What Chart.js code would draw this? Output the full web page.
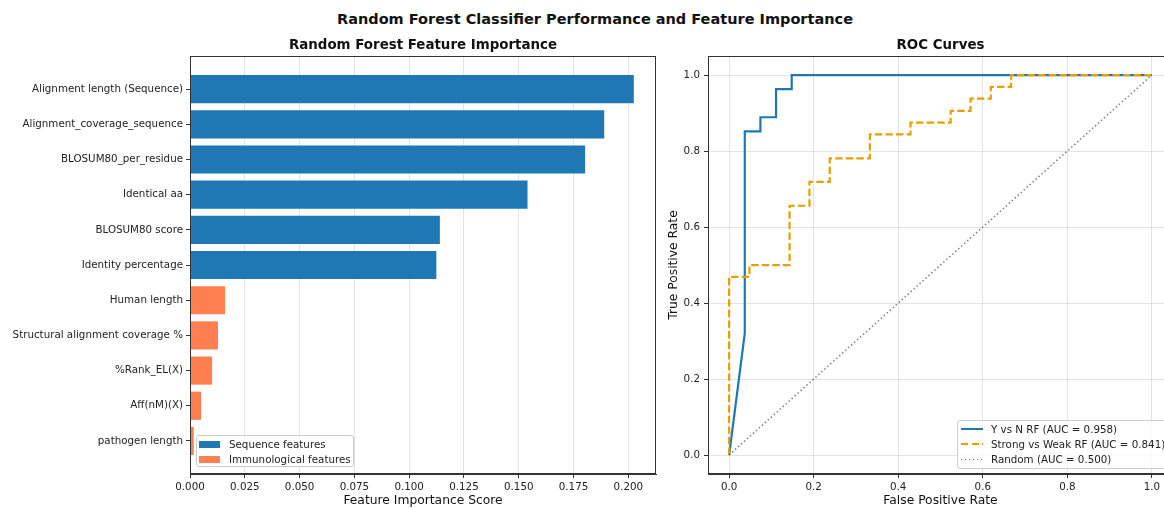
<!DOCTYPE html>
<html>
<head>
<meta charset="utf-8">
<title>Random Forest Classifier Performance and Feature Importance</title>
<script src="https://cdn.jsdelivr.net/npm/chart.js@4.4.1/dist/chart.umd.min.js"></script>
<style>
    html, body { margin: 0; padding: 0; background: #fff; overflow: hidden; }
    body { width: 1164px; height: 508px; position: relative; font-family: 'DejaVu Sans', sans-serif; color: #111; }
    #suptitle { position: absolute; left: 295px; top: 10px; width: 600px; text-align: center; font-weight: bold; font-size: 14.5px; line-height: 18px; white-space: nowrap; }
    #importanceChart { position: absolute; left: 0; top: 0; }
    #rocChart { position: absolute; left: 660px; top: 0; }
    .legend { position: absolute; box-sizing: border-box; background: rgba(255, 255, 255, 0.8); border: 1px solid #ccc; border-radius: 3px; font-size: 10.3px; color: #222; }
    .legend .row { position: absolute; left: 0; height: 12px; line-height: 12px; white-space: nowrap; }
    .legend .swatch { position: absolute; top: 2.5px; width: 21px; height: 7px; }
    .legend .sample { position: absolute; width: 22px; }
    .legend .label { position: absolute; top: 0; }
</style>
</head>
<body>
<div id="suptitle">Random Forest Classifier Performance and Feature Importance</div>
<canvas id="importanceChart" width="660" height="508"></canvas>
<canvas id="rocChart" width="520" height="508"></canvas>

<!-- legends drawn as html boxes, same look as the matplotlib frames -->
<div class="legend" id="importanceLegend" style="left:196px; top:435px; width:158px; height:32px;">
    <div class="row" style="top:2px;"><span class="swatch" style="left:2px; background:#1f77b4;"></span><span class="label" style="left:32px;">Sequence features</span></div>
    <div class="row" style="top:17.3px;"><span class="swatch" style="left:2px; background:coral;"></span><span class="label" style="left:32px;">Immunological features</span></div>
</div>
<div class="legend" id="rocLegend" style="left:957px; top:420px; width:212px; height:49px;">
    <div class="row" style="top:1.6px;"><span class="sample" style="left:3px; top:5px; height:2px; background:#1f77b4;"></span><span class="label" style="left:33px;">Y vs N RF (AUC = 0.958)</span></div>
    <div class="row" style="top:17px;"><span class="sample" style="left:3px; top:5px; height:2px; background:repeating-linear-gradient(to right, #E69F00 0 7.4px, transparent 7.4px 10.6px);"></span><span class="label" style="left:33px;">Strong vs Weak RF (AUC = 0.841)</span></div>
    <div class="row" style="top:32.4px;"><span class="sample" style="left:3px; top:5.25px; height:1.5px; background:repeating-linear-gradient(to right, rgba(0,0,0,0.5) 0 1.5px, transparent 1.5px 4px);"></span><span class="label" style="left:33px;">Random (AUC = 0.500)</span></div>
</div>

<script>
// ---- data ----
const featureNames = [
    'Alignment length (Sequence)',
    'Alignment_coverage_sequence',
    'BLOSUM80_per_residue',
    'Identical aa',
    'BLOSUM80 score',
    'Identity percentage',
    'Human length',
    'Structural alignment coverage %',
    '%Rank_EL(X)',
    'Aff(nM)(X)',
    'pathogen length'
];
const importanceScores = [0.2025, 0.189, 0.1803, 0.154, 0.114, 0.1124, 0.016, 0.0128, 0.0101, 0.0051, 0.0017];
const featureGroups = ['Sequence', 'Sequence', 'Sequence', 'Sequence', 'Sequence', 'Sequence',
    'Immunological', 'Immunological', 'Immunological', 'Immunological', 'Immunological'];
const importanceTicks = [0, 0.025, 0.05, 0.075, 0.1, 0.125, 0.15, 0.175, 0.2];

// ROC curves (fpr / tpr pairs, step corners included)
const yVsNFpr = [0, 0.037, 0.037, 0.074, 0.074, 0.111, 0.111, 0.148, 0.148, 1.0];
const yVsNTpr = [0, 0.32, 0.852, 0.852, 0.889, 0.889, 0.963, 0.963, 1.0, 1.0];
const strongWeakFpr = [0, 0, 0.048, 0.048, 0.143, 0.143, 0.190, 0.190, 0.238, 0.238, 0.333, 0.333,
    0.429, 0.429, 0.524, 0.524, 0.571, 0.571, 0.619, 0.619, 0.667, 0.667, 1.0];
const strongWeakTpr = [0, 0.469, 0.469, 0.5, 0.5, 0.656, 0.656, 0.719, 0.719, 0.781, 0.781, 0.844,
    0.844, 0.875, 0.875, 0.906, 0.906, 0.938, 0.938, 0.969, 0.969, 1.0, 1.0];
const randomFpr = [0, 1];
const randomTpr = [0, 1];
const rocTicks = [0, 0.2, 0.4, 0.6, 0.8, 1.0];

Chart.defaults.font.family = "'DejaVu Sans', sans-serif";
Chart.defaults.font.size = 10.3;
Chart.defaults.color = '#222';

const SPINE = '#333';
const GRID = 'rgba(176, 176, 176, 0.35)';

// matplotlib draws all four spines, chart.js only the axis ones
const framePlugin = {
    id: 'frame',
    afterDraw(chart) {
        const { ctx, chartArea: a } = chart;
        ctx.save();
        ctx.strokeStyle = SPINE;
        ctx.lineWidth = 1;
        ctx.strokeRect(Math.round(a.left) + 0.5, Math.round(a.top) + 0.5,
            Math.round(a.right - a.left) - 1, Math.round(a.bottom - a.top) - 1);
        ctx.restore();
    }
};

function fixedTicks(values) {
    return scale => { scale.ticks = values.map(v => ({ value: v })); };
}

function toPoints(xs, ys) {
    return xs.map((x, i) => ({ x: x, y: ys[i] }));
}

function barsFor(group) {
    return importanceScores
        .map((v, i) => ({ x: v, y: i }))
        .filter((p, i) => featureGroups[i] === group);
}

function drawImportanceChart() {
    const ctx = document.getElementById('importanceChart').getContext('2d');
    // same margins as matplotlib: 0.8 high bars + 5% padding
    const yPad = 0.4 + 0.05 * (featureNames.length - 1 + 0.8);
    const xMax = Math.max(...importanceScores) * 1.05;

    new Chart(ctx, {
        type: 'bar',
        data: {
            datasets: [
                {
                    label: 'Sequence features',
                    data: barsFor('Sequence'),
                    backgroundColor: '#1f77b4',
                    grouped: false,
                    barPercentage: 0.8,
                    categoryPercentage: 1.0
                },
                {
                    label: 'Immunological features',
                    data: barsFor('Immunological'),
                    backgroundColor: 'coral',
                    grouped: false,
                    barPercentage: 0.8,
                    categoryPercentage: 1.0
                }
            ]
        },
        options: {
            indexAxis: 'y',
            responsive: false,
            animation: false,
            layout: { padding: { left: 0, top: 37, right: 4, bottom: 0 } },
            scales: {
                x: {
                    type: 'linear',
                    min: 0,
                    max: xMax,
                    z: 1, // grid over the bars like matplotlib
                    afterBuildTicks: fixedTicks(importanceTicks),
                    afterFit: s => { s.height = 34; },
                    ticks: { callback: v => v.toFixed(3), padding: 3, autoSkip: false, maxRotation: 0 },
                    grid: { color: GRID, tickColor: SPINE, tickLength: 4 },
                    border: { color: SPINE },
                    title: { display: true, text: 'Feature Importance Score', font: { size: 12.3 }, color: '#111', padding: { top: 0, bottom: 0 } }
                },
                y: {
                    type: 'linear',
                    reverse: true,
                    offset: false,
                    min: -yPad,
                    max: featureNames.length - 1 + yPad,
                    afterBuildTicks: fixedTicks(featureNames.map((n, i) => i)),
                    afterFit: s => { s.width = 190; },
                    ticks: { callback: v => featureNames[v], padding: 3, autoSkip: false },
                    grid: { offset: false, drawOnChartArea: false, tickColor: SPINE, tickLength: 4 },
                    border: { color: SPINE }
                }
            },
            plugins: {
                legend: { display: false },
                tooltip: { enabled: false },
                title: {
                    display: true,
                    text: 'Random Forest Feature Importance',
                    fullSize: false,
                    color: '#111',
                    font: { size: 13.4, weight: 'bold' },
                    padding: { top: 0, bottom: 3 }
                }
            }
        },
        plugins: [framePlugin]
    });
}

function drawRocChart() {
    const ctx = document.getElementById('rocChart').getContext('2d');

    new Chart(ctx, {
        type: 'line',
        data: {
            datasets: [
                {
                    label: 'Y vs N RF (AUC = 0.958)',
                    data: toPoints(yVsNFpr, yVsNTpr),
                    borderColor: '#1f77b4',
                    borderWidth: 2.2,
                    pointRadius: 0,
                    tension: 0,
                    order: 3
                },
                {
                    label: 'Strong vs Weak RF (AUC = 0.841)',
                    data: toPoints(strongWeakFpr, strongWeakTpr),
                    borderColor: '#E69F00',
                    borderWidth: 2.2,
                    borderDash: [7.4, 3.2],
                    pointRadius: 0,
                    tension: 0,
                    order: 2
                },
                {
                    label: 'Random (AUC = 0.500)',
                    data: toPoints(randomFpr, randomTpr),
                    borderColor: 'rgba(0, 0, 0, 0.5)',
                    borderWidth: 1.5,
                    borderDash: [1.5, 2.5],
                    pointRadius: 0,
                    tension: 0,
                    order: 1
                }
            ]
        },
        options: {
            responsive: false,
            animation: false,
            layout: { padding: { left: 0, top: 37, right: 7, bottom: 0 } },
            scales: {
                x: {
                    type: 'linear',
                    min: -0.05,
                    max: 1.05,
                    afterBuildTicks: fixedTicks(rocTicks),
                    afterFit: s => { s.height = 34; },
                    ticks: { callback: v => v.toFixed(1), padding: 3, autoSkip: false, maxRotation: 0 },
                    grid: { color: GRID, tickColor: SPINE, tickLength: 4 },
                    border: { color: SPINE },
                    title: { display: true, text: 'False Positive Rate', font: { size: 12.3 }, color: '#111', padding: { top: 0, bottom: 0 } }
                },
                y: {
                    type: 'linear',
                    min: -0.05,
                    max: 1.05,
                    afterBuildTicks: fixedTicks(rocTicks),
                    afterFit: s => { s.width = 48; },
                    ticks: { callback: v => v.toFixed(1), padding: 4, autoSkip: false },
                    grid: { color: GRID, tickColor: SPINE, tickLength: 4 },
                    border: { color: SPINE },
                    title: { display: true, text: 'True Positive Rate', font: { size: 12.3 }, color: '#111', padding: { top: 6, bottom: 0 } }
                }
            },
            plugins: {
                legend: { display: false },
                tooltip: { enabled: false },
                title: {
                    display: true,
                    text: 'ROC Curves',
                    fullSize: false,
                    color: '#111',
                    font: { size: 13.4, weight: 'bold' },
                    padding: { top: 0, bottom: 3 }
                }
            }
        },
        plugins: [framePlugin]
    });
}

document.addEventListener('DOMContentLoaded', () => {
    drawImportanceChart();
    drawRocChart();
});
</script>
</body>
</html>
